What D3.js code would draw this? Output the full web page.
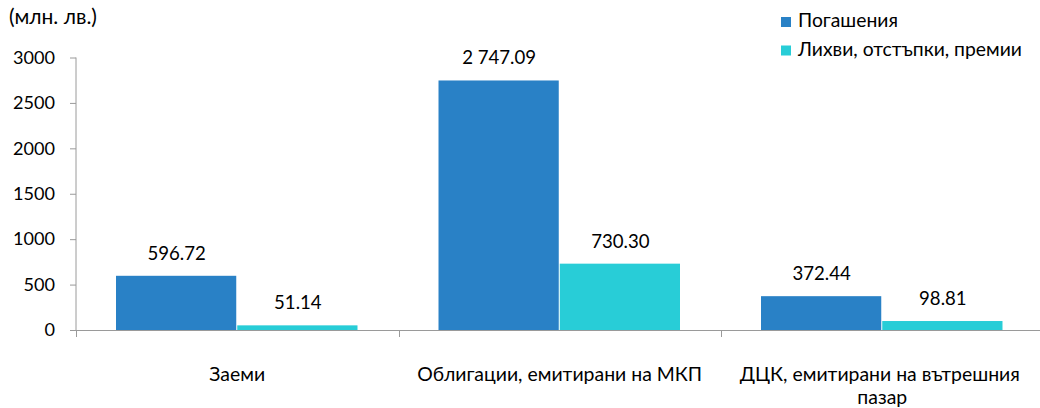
<!DOCTYPE html>
<html><head><meta charset="utf-8">
<script src="https://cdn.jsdelivr.net/npm/d3@7"></script>
<style>
html,body{margin:0;padding:0;background:#fff;}
svg{display:block;font-family:Lato,"Open Sans",sans-serif;}
</style></head><body>
<svg id="c" width="1040" height="408"></svg>
<script>
const categories = ["Заеми", "Облигации, емитирани на МКП", "ДЦК, емитирани на вътрешния пазар"];
const seriesNames = ["Погашения", "Лихви, отстъпки, премии"];
const repayments = [596.72, 2747.09, 372.44];
const interest = [51.14, 730.30, 98.81];
const yTicks = [0, 500, 1000, 1500, 2000, 2500, 3000];
const colors = ["#2981C6", "#28CDD7"];

const svg = d3.select("#c");
const pLeft = 76, pRight = 1043.5, pTop = 57.5, pBottom = 330;
const fmt = v => { const s = v.toFixed(2); const [i, d] = s.split("."); return i.replace(/\B(?=(\d{3})+(?!\d))/g, " ") + "." + d; };

// font size fitting: find size so that sample text has target width
function fitSize(sample, target) {
  const t = svg.append("text").attr("font-size", 20).text(sample);
  const w = t.node().getComputedTextLength();
  t.remove();
  return 20 * target / w;
}
const fsCat = fitSize("Облигации, емитирани на МКП", 285);
const fsData = fitSize("2 747.09", 74);
const fsTick = fitSize("3000", 42);
const fsLeg = fitSize("Лихви, отстъпки, премии", 224);
const fsUnit = fitSize("(млн. лв.)", 88);

const x0 = d3.scaleBand().domain(categories).range([pLeft, pRight]).paddingInner(0).paddingOuter(0);
const x1 = d3.scaleBand().domain([0, 1]).range([0, x0.bandwidth()]).paddingOuter(0.33).paddingInner(0);
const y = d3.scaleLinear().domain([0, 3000]).range([pBottom, pTop]);

// y axis
const yAxis = svg.append("g").attr("transform", `translate(${pLeft},0)`)
  .call(d3.axisLeft(y).tickValues(yTicks).tickSize(6).tickPadding(15).tickFormat(d3.format("d")));
yAxis.selectAll("path,line").attr("stroke", "#9a9a9a");
yAxis.select(".domain").attr("d", `M0,${pTop}V${pBottom}`);
yAxis.selectAll("text").attr("font-size", fsTick).attr("fill", "#000").attr("font-family", "Lato");

// x axis line and boundary ticks
const xg = svg.append("g");
xg.append("line").attr("x1", pLeft).attr("x2", pRight).attr("y1", pBottom + 0.5).attr("y2", pBottom + 0.5).attr("stroke", "#9a9a9a");
const bounds = categories.map(c => x0(c)).concat([pRight]);
xg.selectAll("line.t").data(bounds).join("line").attr("class", "t")
  .attr("x1", d => Math.round(d) + 0.5).attr("x2", d => Math.round(d) + 0.5)
  .attr("y1", pBottom).attr("y2", pBottom + 7).attr("stroke", "#9a9a9a");

const series = [repayments, interest];
categories.forEach((c, i) => {
  series.forEach((s, j) => {
    const bx = x0(c) + x1(j), bw = x1.bandwidth();
    svg.append("rect").attr("x", bx).attr("y", y(s[i])).attr("width", bw - 1).attr("height", pBottom - y(s[i]))
      .attr("fill", colors[j]);
    svg.append("text").attr("x", bx + bw / 2).attr("y", y(s[i]) - 16).attr("text-anchor", "middle")
      .attr("font-size", fsData).attr("fill", "#000").text(fmt(s[i]));
  });
});

// category labels (wrap)
const catLines = [["Заеми"], ["Облигации, емитирани на МКП"], ["ДЦК, емитирани на вътрешния", "пазар"]];
categories.forEach((c, i) => {
  const t = svg.append("text").attr("text-anchor", "middle").attr("font-size", fsCat).attr("fill", "#000");
  catLines[i].forEach((ln, k) => {
    t.append("tspan").attr("x", x0(c) + x0.bandwidth() / 2 - (i === 2 && k === 0 ? 2.5 : 0)).attr("y", 381 + k * 23).text(ln);
  });
});

// unit label
svg.append("text").attr("x", 9).attr("y", 24).attr("font-size", fsUnit).attr("fill", "#000").text("(млн. лв.)");

// legend
seriesNames.forEach((n, j) => {
  const sy = 17 + j * 28.5;
  svg.append("rect").attr("x", 781).attr("y", sy).attr("width", 10).attr("height", 10).attr("fill", colors[j]);
  svg.append("text").attr("x", 798).attr("y", sy + 10).attr("font-size", fsLeg).attr("fill", "#000").text(n);
});
</script>
</body></html>
